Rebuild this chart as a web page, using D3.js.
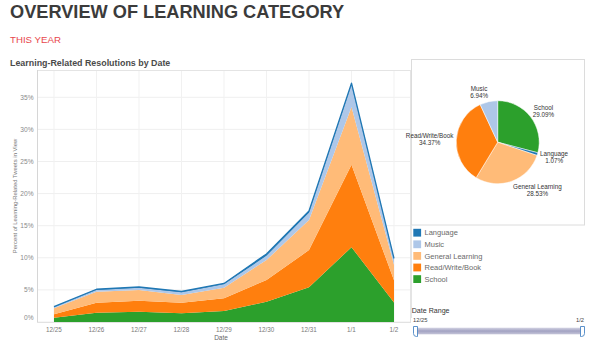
<!DOCTYPE html>
<html>
<head>
<meta charset="utf-8">
<script src="https://cdn.jsdelivr.net/npm/d3@7/dist/d3.min.js"></script>
<style>
  html, body { margin: 0; padding: 0; background: #fff; }
  svg { display: block; font-family: "Liberation Sans", Arial, sans-serif; }
</style>
</head>
<body>
<svg id="chart" width="596" height="343"></svg>
<script>
// Dates on the x axis
const dates = ["12/25", "12/26", "12/27", "12/28", "12/29", "12/30", "12/31", "1/1", "1/2"];

// Share of learning-related tweets per category and date (%)
const school      = [0.67, 1.45, 1.60, 1.35, 1.70, 3.17, 5.40, 11.65, 3.05];
const readWrite   = [0.53, 1.55, 1.70, 1.65, 2.00, 3.37, 5.80, 12.85, 3.45];
const generalLrn  = [0.93, 1.72, 1.68, 1.20, 1.65, 3.12, 4.70, 9.00, 2.40];
const music       = [0.15, 0.28, 0.37, 0.42, 0.52, 0.64, 1.10, 3.40, 0.80];
const language    = [0.10, 0.10, 0.10, 0.13, 0.13, 0.30, 0.30, 0.30, 0.20];

// Stack order, bottom to top
const seriesNames = ["School", "Read/Write/Book", "General Learning", "Music", "Language"];
const seriesValues = [school, readWrite, generalLrn, music, language];

// Pie totals for the whole range (%), clockwise from 12 o'clock
const pieNames  = ["School", "Language", "General Learning", "Read/Write/Book", "Music"];
const pieValues = [29.09, 1.07, 28.53, 34.37, 6.94];

// Legend order
const legendNames = ["Language", "Music", "General Learning", "Read/Write/Book", "School"];

const yTicks = [0, 5, 10, 15, 20, 25, 30, 35];

const color = d3.scaleOrdinal()
  .domain(["Language", "Music", "General Learning", "Read/Write/Book", "School"])
  .range(["#1f77b4", "#aec7e8", "#ffbb78", "#ff7f0e", "#2ca02c"]);

const svg = d3.select("#chart");

// ---- Headings ----
svg.append("text").attr("x", 10).attr("y", 18.4)
  .attr("font-size", 18.2).attr("font-weight", "bold").attr("fill", "#3b3b3b")
  .text("OVERVIEW OF LEARNING CATEGORY");
svg.append("text").attr("x", 10).attr("y", 43.3)
  .attr("font-size", 9.7).attr("fill", "#e8474c")
  .text("THIS YEAR");
svg.append("text").attr("x", 10).attr("y", 65.8)
  .attr("font-size", 8.9).attr("font-weight", "bold").attr("fill", "#4a4a4a")
  .text("Learning-Related Resolutions by Date");

// ---- Area chart ----
const plot = { left: 37, right: 411, top: 70, bottom: 322 };

const x = d3.scalePoint().domain(dates)
  .range([plot.left, plot.right]).padding(0.4);
const y = d3.scaleLinear().domain([0, 39.25]).range([plot.bottom, plot.top]);

const rows = dates.map((d, i) => {
  const r = { date: d };
  seriesNames.forEach((n, k) => { r[n] = seriesValues[k][i]; });
  return r;
});
const stacked = d3.stack().keys(seriesNames)(rows);

const g = svg.append("g");

// grid
g.selectAll(".hgrid").data(yTicks).join("line")
  .attr("x1", plot.left).attr("x2", plot.right)
  .attr("y1", d => y(d)).attr("y2", d => y(d))
  .attr("stroke", "#efefef").attr("stroke-width", 1);
g.selectAll(".vgrid").data(dates).join("line")
  .attr("x1", d => x(d)).attr("x2", d => x(d))
  .attr("y1", plot.top).attr("y2", plot.bottom)
  .attr("stroke", "#f1f1f1").attr("stroke-width", 1);
// frame
g.append("line").attr("x1", plot.left).attr("x2", plot.right)
  .attr("y1", plot.top + 0.5).attr("y2", plot.top + 0.5).attr("stroke", "#e4e4e4");
g.append("line").attr("x1", plot.right - 0.5).attr("x2", plot.right - 0.5)
  .attr("y1", plot.top).attr("y2", plot.bottom).attr("stroke", "#e4e4e4");

const area = d3.area()
  .x(d => x(d.data.date))
  .y0(d => y(d[0]))
  .y1(d => y(d[1]));

g.selectAll(".layer").data(stacked).join("path")
  .attr("d", area)
  .attr("fill", d => color(d.key));

// outline along the top of the stack
const topLine = d3.line()
  .x(d => x(d.data.date))
  .y(d => y(d[1]));
g.append("path").datum(stacked[stacked.length - 1])
  .attr("d", topLine).attr("fill", "none")
  .attr("stroke", color("Language")).attr("stroke-width", 1.3)
  .attr("stroke-linejoin", "round");

// left axis line
g.append("line").attr("x1", plot.left + 0.5).attr("x2", plot.left + 0.5)
  .attr("y1", plot.top).attr("y2", plot.bottom).attr("stroke", "#d6d6d6");
g.append("line").attr("x1", plot.left).attr("x2", plot.right)
  .attr("y1", plot.bottom + 0.5).attr("y2", plot.bottom + 0.5).attr("stroke", "#e2e2e2");

// y tick labels
g.selectAll(".ylab").data(yTicks).join("text")
  .attr("x", 33.5)
  .attr("y", d => Math.min(y(d), plot.bottom - 4))
  .attr("dy", "0.35em")
  .attr("text-anchor", "end")
  .attr("font-size", 6.6).attr("fill", "#8a8a8a")
  .text(d => d + "%");

// x tick labels
g.selectAll(".xlab").data(dates).join("text")
  .attr("x", d => x(d)).attr("y", 331.5)
  .attr("text-anchor", "middle")
  .attr("font-size", 6.3).attr("fill", "#7a7a7a")
  .text(d => d);

g.append("text").attr("x", (plot.left + plot.right) / 2 - 3).attr("y", 339.5)
  .attr("text-anchor", "middle").attr("font-size", 6.5).attr("fill", "#666")
  .text("Date");

g.append("text")
  .attr("transform", `translate(17.2,${(plot.top + plot.bottom) / 2}) rotate(-90)`)
  .attr("text-anchor", "middle").attr("font-size", 5.9).attr("fill", "#777")
  .text("Percent of Learning-Related Tweets in View");

// ---- Pie panel ----
svg.append("rect").attr("x", 411.5).attr("y", 59.5).attr("width", 173).attr("height", 165.5)
  .attr("fill", "#fff").attr("stroke", "#dcdcdc");

const cx = 497.7, cy = 142.2, radius = 41.5;
const pie = d3.pie().sort(null).value(d => d.value);
const arcs = pie(pieNames.map((n, i) => ({ name: n, value: pieValues[i] })));
const arc = d3.arc().innerRadius(0).outerRadius(radius);

const pg = svg.append("g").attr("transform", `translate(${cx},${cy})`);
pg.selectAll("path").data(arcs).join("path")
  .attr("d", arc)
  .attr("fill", d => color(d.data.name))
  .attr("stroke", "#fff").attr("stroke-width", 0.5);

// labels sit just outside each slice, pushed away from the pie
const labelR = 44, lineH = 7.3;
arcs.forEach(a => {
  const mid = (a.startAngle + a.endAngle) / 2;
  const sx = Math.sin(mid), cy0 = -Math.cos(mid);
  const px = labelR * sx, py = labelR * cy0;
  const lines = [a.data.name, a.data.value.toFixed(2) + "%"];
  const t = pg.append("text").attr("font-size", 6.3).attr("fill", "#333")
    .attr("text-anchor", "middle");
  lines.forEach((s, i) => {
    t.append("tspan").attr("x", 0).attr("dy", i === 0 ? 0 : lineH).text(s);
  });
  const bb = t.node().getBBox();
  const w = bb.width;
  const ox = px + (sx >= 0 ? 1 : -1) * w / 2;
  const oy = py + cy0 * lineH - lineH / 2 + 2.3;
  t.attr("transform", `translate(${ox},${oy})`);
});

// ---- Legend ----
const lg = svg.append("g");
legendNames.forEach((n, i) => {
  const yy = 232.7 + i * 11.6;
  lg.append("rect").attr("x", 413.3).attr("y", yy - 3.9).attr("width", 7.8).attr("height", 7.8)
    .attr("fill", color(n));
  lg.append("text").attr("x", 424.5).attr("y", yy).attr("dy", "0.35em")
    .attr("font-size", 7.5).attr("fill", "#6a6a6a").text(n);
});

// ---- Date range slider ----
svg.append("line").attr("x1", 411.5).attr("x2", 411.5).attr("y1", 225).attr("y2", 318)
  .attr("stroke", "#e4e4e4");

svg.append("text").attr("x", 411.7).attr("y", 313.2)
  .attr("font-size", 7.1).attr("fill", "#333").text("Date Range");
svg.append("text").attr("x", 413).attr("y", 322)
  .attr("font-size", 5.8).attr("fill", "#444").text(dates[0]);
svg.append("text").attr("x", 584).attr("y", 322).attr("text-anchor", "end")
  .attr("font-size", 5.8).attr("fill", "#444").text(dates[dates.length - 1]);

const defs = svg.append("defs");
const grad = defs.append("linearGradient").attr("id", "track")
  .attr("x1", 0).attr("x2", 0).attr("y1", 0).attr("y2", 1);
grad.append("stop").attr("offset", "0%").attr("stop-color", "#d4d4e4");
grad.append("stop").attr("offset", "50%").attr("stop-color", "#a2a2c2");
grad.append("stop").attr("offset", "100%").attr("stop-color", "#c4c4d8");

const slider = d3.scalePoint().domain(dates).range([415.5, 582.5]);
svg.append("rect").attr("x", slider(dates[0])).attr("y", 327.7)
  .attr("width", slider(dates[dates.length - 1]) - slider(dates[0])).attr("height", 6.6)
  .attr("fill", "url(#track)");

// handles at both ends of the selected range
[dates[0], dates[dates.length - 1]].forEach((d, i) => {
  const hx = slider(d);
  const path = i === 0
    ? `M${hx + 2},${326.5} L${hx - 2},${326.5} L${hx - 2},${333.5} Q${hx - 2},${336.5} ${hx + 1},${336.5} L${hx + 2},${336.5} Z`
    : `M${hx - 2},${326.5} L${hx + 2},${326.5} L${hx + 2},${333.5} Q${hx + 2},${336.5} ${hx - 1},${336.5} L${hx - 2},${336.5} Z`;
  svg.append("path").attr("d", path).attr("fill", "#fff")
    .attr("stroke", "#4a86c5").attr("stroke-width", 0.9);
});
</script>
</body>
</html>
